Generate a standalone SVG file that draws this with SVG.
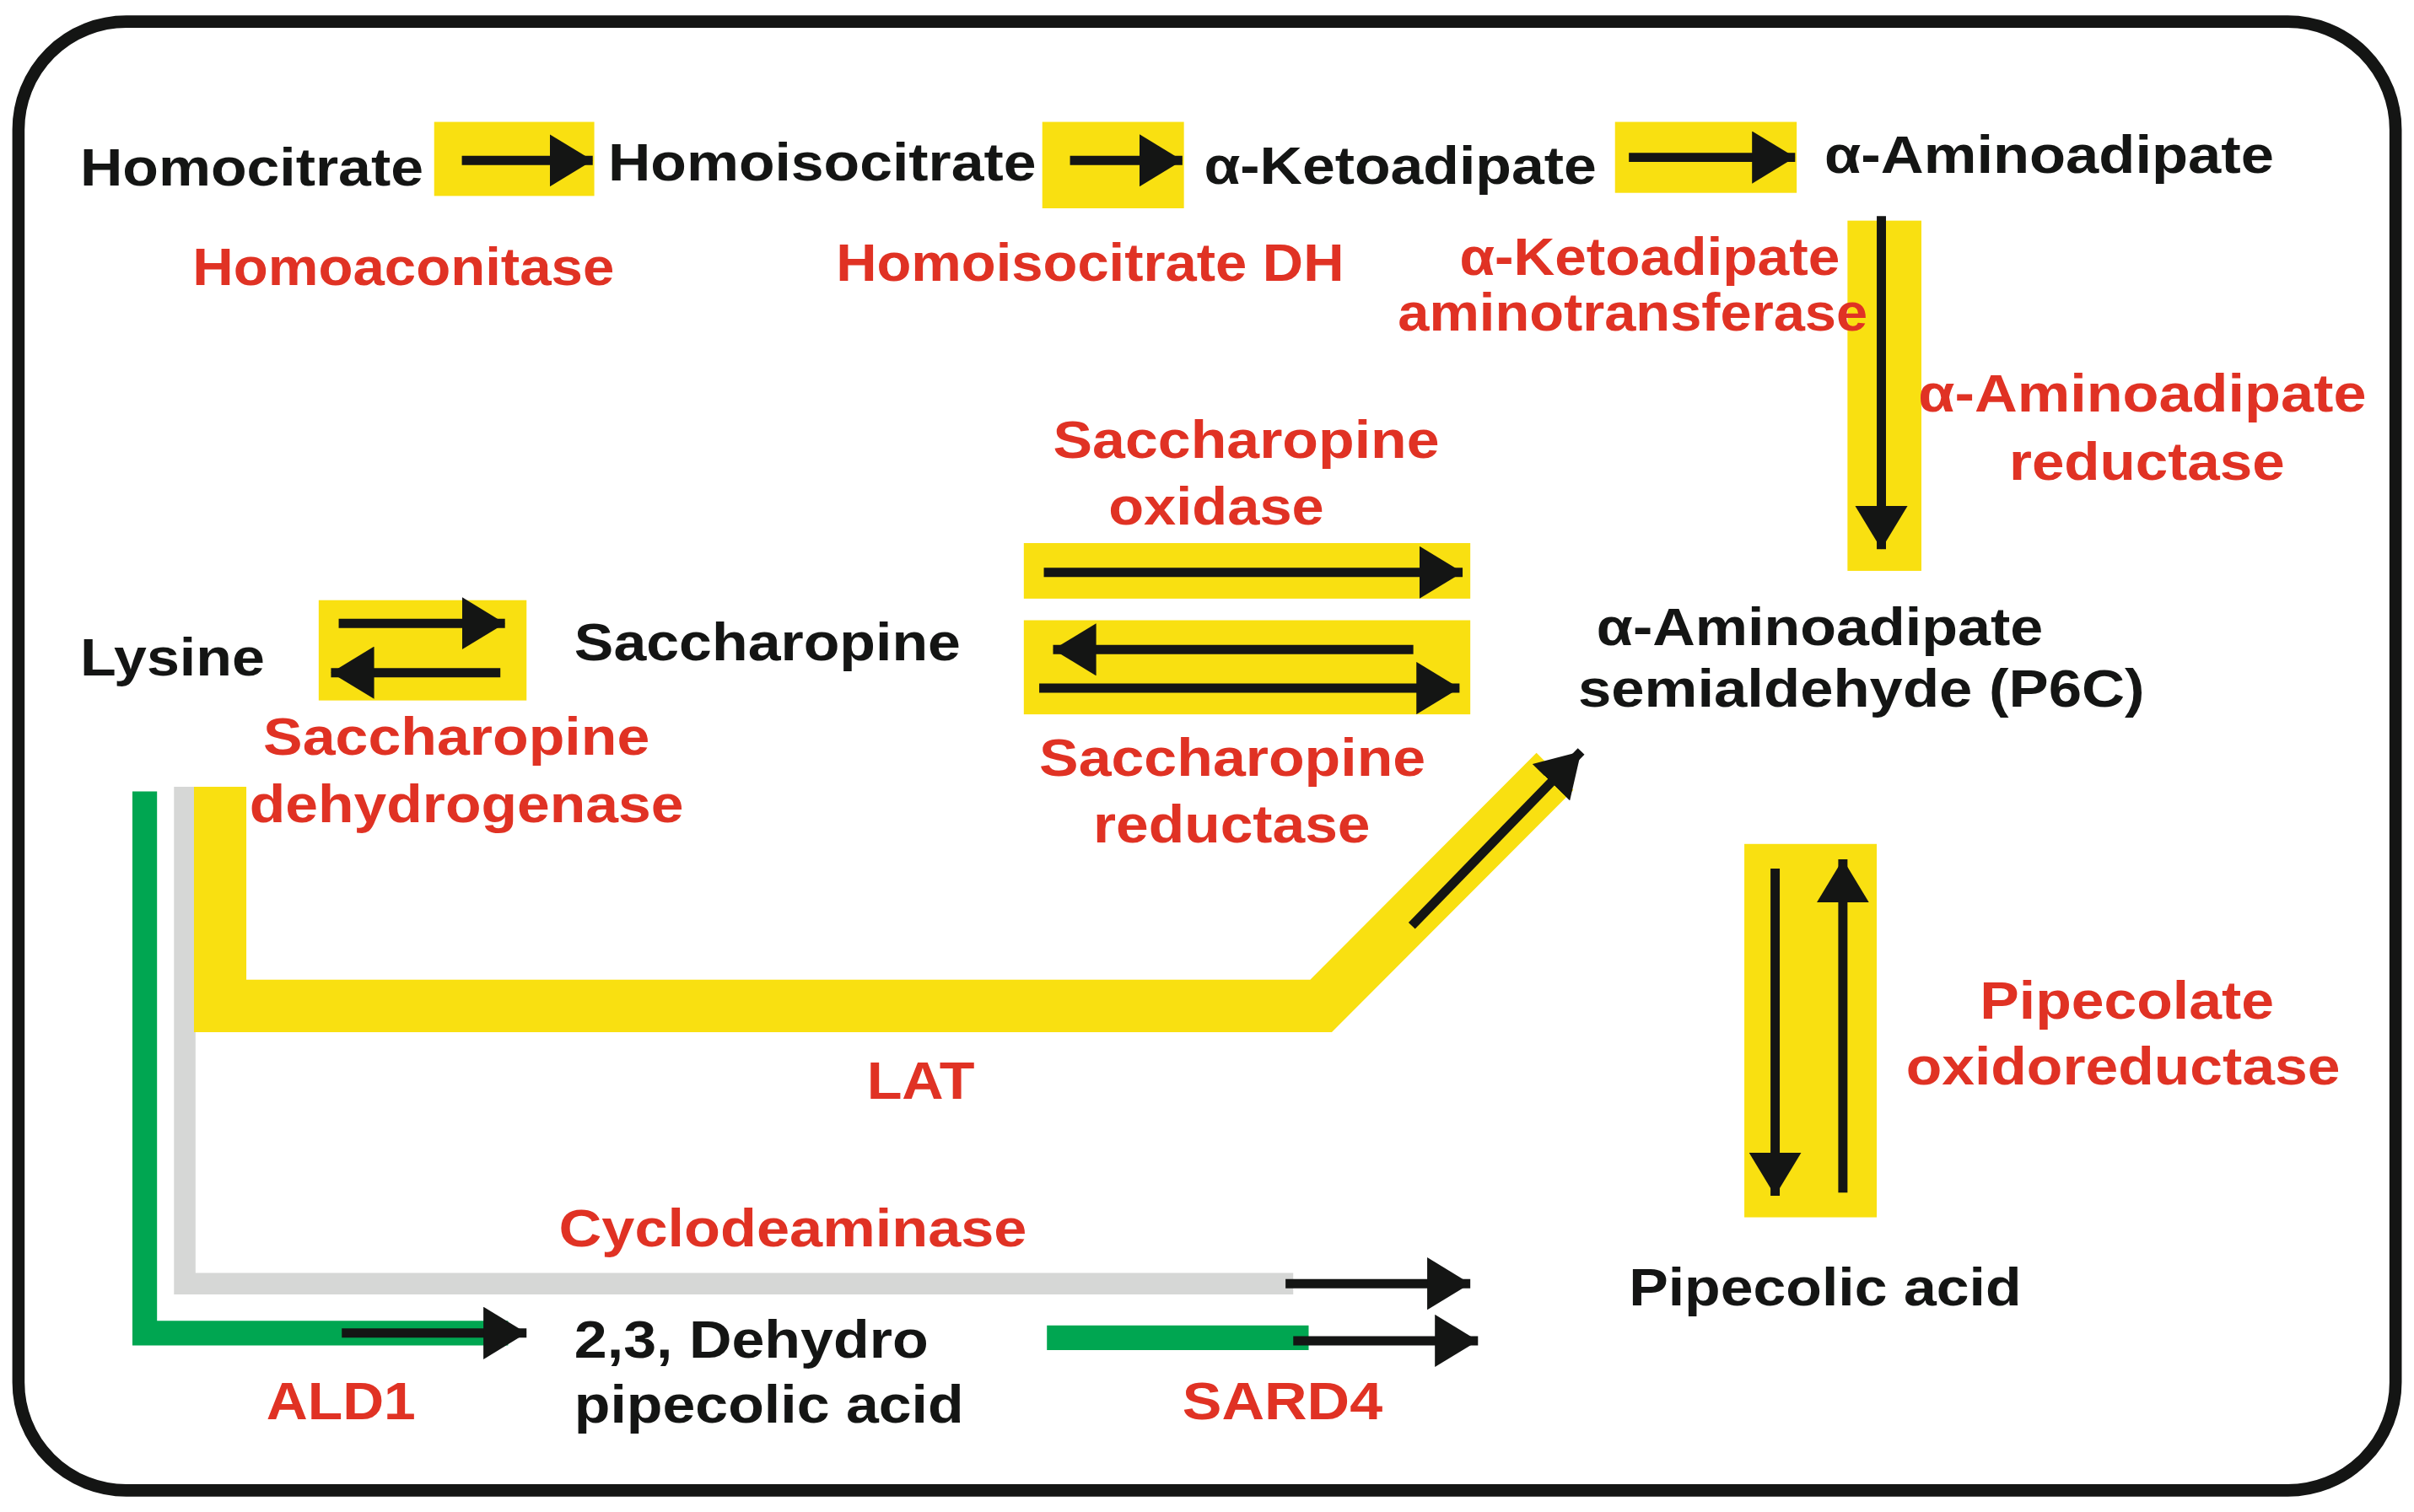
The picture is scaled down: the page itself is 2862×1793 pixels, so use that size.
<svg xmlns="http://www.w3.org/2000/svg" width="2862" height="1793" viewBox="0 0 2862 1793">
<style>
.b{font-family:"Liberation Sans",Arial,sans-serif;font-weight:bold;font-size:34px;fill:#141514}
.r{font-family:"Liberation Sans",Arial,sans-serif;font-weight:bold;font-size:34px;fill:#e03224}
.y{fill:#f9e011}
.a{stroke:#141514;stroke-width:6;fill:none;marker-end:url(#h)}
</style>
<defs>
<marker id="h" markerUnits="userSpaceOnUse" markerWidth="30" markerHeight="34" refX="28" refY="17" orient="auto"><path d="M0,0 L28,17 L0,34 z" fill="#141514"/></marker>
</defs>
<rect width="2862" height="1793" fill="#fff"/>
<g transform="scale(1.8253,1.8296)">
<rect id="frame" x="12" y="14" width="1544" height="952" rx="70" fill="none" stroke="#141514" stroke-width="8"/>
<g id="pathways">
<polyline points="94,513 94,864 330,864" fill="none" stroke="#00a651" stroke-width="16"/>
<line x1="680" y1="867" x2="850" y2="867" stroke="#00a651" stroke-width="16"/>
<polyline points="120,510 120,832 840,832" fill="none" stroke="#d6d7d6" stroke-width="14"/>
<polyline points="143,510 143,652 858,652 1010,500" fill="none" stroke="#f9e011" stroke-width="34"/>
</g>
<g id="boxes">
<rect class="y" x="282" y="79" width="104" height="48"/>
<rect class="y" x="677" y="79" width="92" height="56"/>
<rect class="y" x="1049" y="79" width="118" height="46"/>
<rect class="y" x="1200" y="143" width="48" height="227"/>
<rect class="y" x="665" y="352" width="290" height="36"/>
<rect class="y" x="665" y="402" width="290" height="61"/>
<rect class="y" x="207" y="389" width="135" height="65"/>
<rect class="y" x="1133" y="547" width="86" height="242"/>
</g>
<g id="connectors">
<line class="a" x1="300" y1="104" x2="385" y2="104"/>
<line class="a" x1="695" y1="104" x2="768" y2="104"/>
<line class="a" x1="1058" y1="102" x2="1166" y2="102"/>
<line class="a" x1="1222" y1="140" x2="1222" y2="356"/>
<line class="a" x1="678" y1="371" x2="950" y2="371"/>
<line class="a" x1="918" y1="421" x2="684" y2="421"/>
<line class="a" x1="675" y1="446" x2="948" y2="446"/>
<line class="a" x1="220" y1="404" x2="328" y2="404"/>
<line class="a" x1="325" y1="436" x2="215" y2="436"/>
<line class="a" x1="917" y1="600" x2="1027" y2="487"/>
<line class="a" x1="835" y1="832" x2="955" y2="832"/>
<line class="a" x1="222" y1="864" x2="342" y2="864"/>
<line class="a" x1="840" y1="869" x2="960" y2="869"/>
<line class="a" x1="1153" y1="563" x2="1153" y2="775"/>
<line class="a" x1="1197" y1="773" x2="1197" y2="557"/>
</g>
<g id="metabolites">
<text class="b" x="52" y="120" textLength="223" lengthAdjust="spacingAndGlyphs">Homocitrate</text>
<text class="b" x="395" y="117" textLength="278" lengthAdjust="spacingAndGlyphs">Homoisocitrate</text>
<text class="b" x="782" y="119" textLength="255" lengthAdjust="spacingAndGlyphs">α-Ketoadipate</text>
<text class="b" x="1185" y="112" textLength="292" lengthAdjust="spacingAndGlyphs">α-Aminoadipate</text>
<text class="b" x="1037" y="418" textLength="290" lengthAdjust="spacingAndGlyphs">α-Aminoadipate</text>
<text class="b" x="1025" y="458" textLength="368" lengthAdjust="spacingAndGlyphs">semialdehyde (P6C)</text>
<text class="b" x="52" y="438" textLength="120" lengthAdjust="spacingAndGlyphs">Lysine</text>
<text class="b" x="373" y="428" textLength="251" lengthAdjust="spacingAndGlyphs">Saccharopine</text>
<text class="b" x="373" y="880" textLength="230" lengthAdjust="spacingAndGlyphs">2,3, Dehydro</text>
<text class="b" x="373" y="922" textLength="253" lengthAdjust="spacingAndGlyphs">pipecolic acid</text>
<text class="b" x="1058" y="846" textLength="255" lengthAdjust="spacingAndGlyphs">Pipecolic acid</text>
</g>
<g id="enzymes">
<text class="r" x="125" y="185" textLength="274" lengthAdjust="spacingAndGlyphs">Homoaconitase</text>
<text class="r" x="543" y="182" textLength="330" lengthAdjust="spacingAndGlyphs">Homoisocitrate DH</text>
<text class="r" x="948" y="178" textLength="247" lengthAdjust="spacingAndGlyphs">α-Ketoadipate</text>
<text class="r" x="908" y="214" textLength="305" lengthAdjust="spacingAndGlyphs">aminotransferase</text>
<text class="r" x="1246" y="267" textLength="291" lengthAdjust="spacingAndGlyphs">α-Aminoadipate</text>
<text class="r" x="1305" y="311" textLength="179" lengthAdjust="spacingAndGlyphs">reductase</text>
<text class="r" x="684" y="297" textLength="251" lengthAdjust="spacingAndGlyphs">Saccharopine</text>
<text class="r" x="720" y="340" textLength="140" lengthAdjust="spacingAndGlyphs">oxidase</text>
<text class="r" x="675" y="503" textLength="251" lengthAdjust="spacingAndGlyphs">Saccharopine</text>
<text class="r" x="710" y="546" textLength="180" lengthAdjust="spacingAndGlyphs">reductase</text>
<text class="r" x="171" y="489" textLength="251" lengthAdjust="spacingAndGlyphs">Saccharopine</text>
<text class="r" x="162" y="533" textLength="282" lengthAdjust="spacingAndGlyphs">dehydrogenase</text>
<text class="r" x="563" y="712" textLength="70" lengthAdjust="spacingAndGlyphs">LAT</text>
<text class="r" x="363" y="808" textLength="304" lengthAdjust="spacingAndGlyphs">Cyclodeaminase</text>
<text class="r" x="173" y="920" textLength="97" lengthAdjust="spacingAndGlyphs">ALD1</text>
<text class="r" x="768" y="920" textLength="130" lengthAdjust="spacingAndGlyphs">SARD4</text>
<text class="r" x="1286" y="660" textLength="191" lengthAdjust="spacingAndGlyphs">Pipecolate</text>
<text class="r" x="1238" y="703" textLength="282" lengthAdjust="spacingAndGlyphs">oxidoreductase</text>
</g>
</g>
</svg>
